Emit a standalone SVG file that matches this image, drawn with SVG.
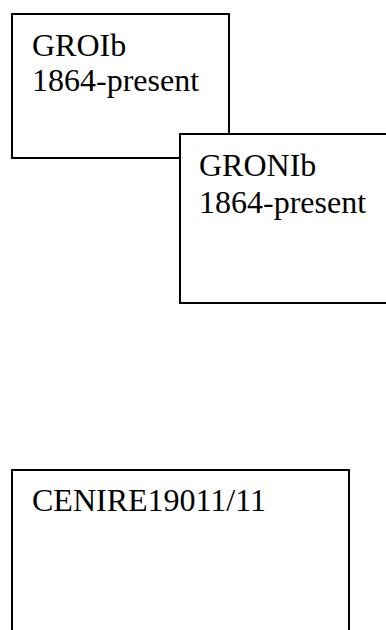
<svg xmlns="http://www.w3.org/2000/svg" width="386" height="630" viewBox="0 0 386 630">
<style>
.box{fill:#fff;stroke:#000;stroke-width:2}
.t{font-family:"Liberation Serif","Times New Roman",serif;font-size:32px;fill:#000}
</style>
<rect width="386" height="630" fill="#fff"/>
<g id="groib">
<rect class="box" x="12" y="14" width="217" height="144"/>
<text class="t" x="32" y="56">GROIb</text>
<text class="t" x="32" y="91">1864-present</text>
</g>
<g id="gronib">
<rect class="box" x="180" y="134" width="215" height="169"/>
<text class="t" x="199" y="176">GRONIb</text>
<text class="t" x="199" y="213">1864-present</text>
</g>
<g id="cenire">
<rect class="box" x="12" y="470" width="337" height="180"/>
<text class="t" x="32" y="511">CENIRE19011/11</text>
</g>
<g id="connectors"/>
</svg>
